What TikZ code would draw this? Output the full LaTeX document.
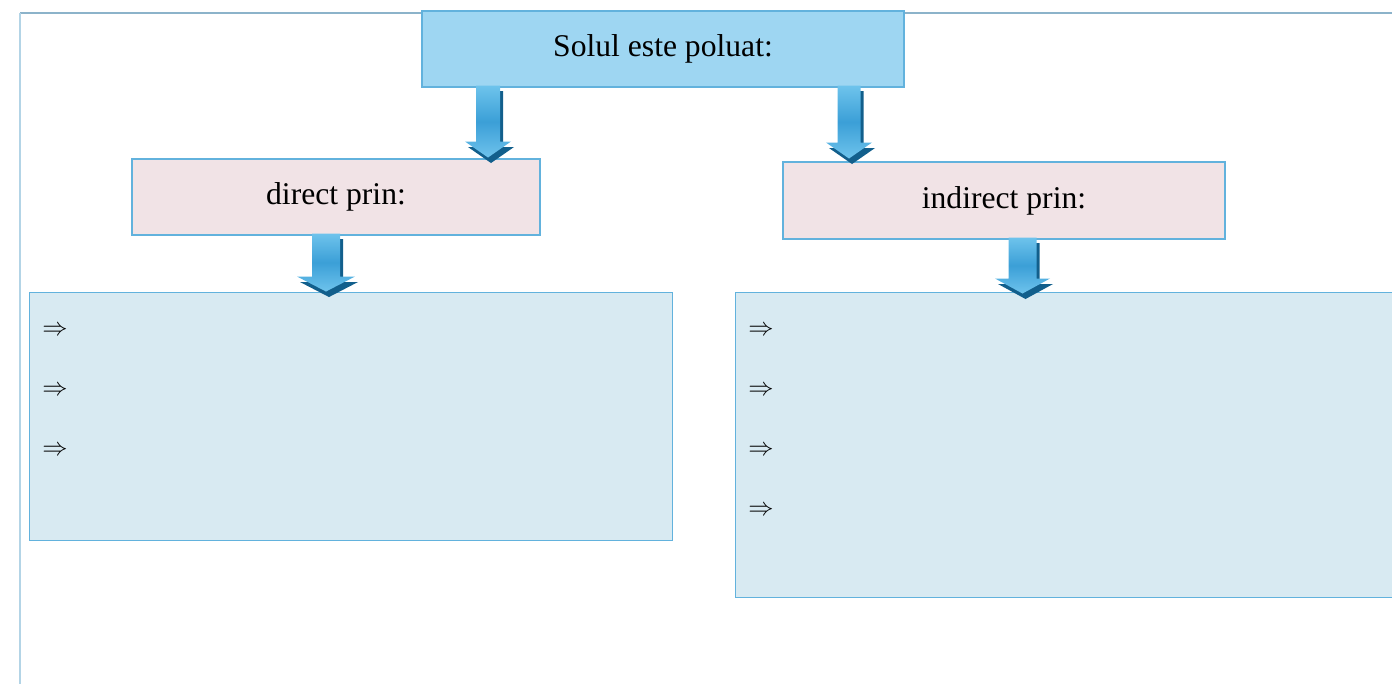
\documentclass[tikz,border=0pt]{standalone}
\usepackage{fontspec}
\setmainfont{Liberation Serif}
\usetikzlibrary{positioning, calc}
\definecolor{SkyBlue}{HTML}{9ED6F2}
\definecolor{BoxLine}{HTML}{62B2DD}
\definecolor{PinkFill}{HTML}{F1E3E6}
\definecolor{PaleBlue}{HTML}{D8EAF2}
\definecolor{FrameTop}{HTML}{8CB3CA}
\definecolor{FrameLeft}{HTML}{B3D4E6}
\definecolor{ArrLight}{HTML}{6EC3EC}
\definecolor{ArrMid}{HTML}{3B9FD7}
\definecolor{ArrDark}{HTML}{125F8C}
\tikzset{
    titlebox/.style={
        draw=BoxLine, line width=0.6pt, fill=SkyBlue, minimum width=9.64cm, minimum height=1.52cm,
        font=\fontsize{18}{22}\selectfont
    },
    waybox/.style={
        draw=BoxLine, line width=0.6pt, fill=PinkFill, minimum height=1.52cm,
        font=\fontsize{18}{22}\selectfont
    },
    listbox/.style={
        draw=BoxLine, line width=0.6pt, fill=PaleBlue, anchor=north west
    },
    bullet/.style={
        anchor=west, inner sep=0pt, font=\fontsize{15.5}{17}\selectfont
    },
    pics/downarr/.style n args={4}{code={
        % umbra (albastru inchis)
        \fill[ArrDark, shift={(0.06,-0.11)}] (-#2,0) -- (#2,0) -- (#2,-#1+#4) -- (#3,-#1+#4)
            -- (0,-#1) -- (-#3,-#1+#4) -- (-#2,-#1+#4) -- cycle;
        % sageata propriu-zisa
        \shade[shading=axis, top color=ArrLight, bottom color=ArrLight, middle color=ArrMid] (-#2,0) -- (#2,0)
            -- (#2,-#1+#4) -- (#3,-#1+#4) -- (0,-#1) -- (-#3,-#1+#4) -- (-#2,-#1+#4) -- cycle;
    }}
}

\begin{document}
\begin{tikzpicture}
    \useasboundingbox (0,0) rectangle (27.84,-13.66);

    % 1. CADRUL
    \draw[FrameTop, line width=0.6pt] (0.40,-0.26) -- (28,-0.26);
    \draw[FrameLeft, line width=0.6pt] (0.40,-0.26) -- (0.40,-13.8);

    % 2. CASETELE
    \node[titlebox] (title) at (13.26,-0.98) {Solul este poluat:};
    \node[waybox, minimum width=8.16cm] (direct) at (6.72,-3.94) {direct prin:};
    \node[waybox, minimum width=8.84cm, minimum height=1.54cm] (indirect) at (20.08,-4.01) {indirect prin:};

    \node[listbox, minimum width=12.86cm, minimum height=4.96cm] (leftlist) at (0.58,-5.84) {};
    \node[listbox, minimum width=13.30cm, minimum height=6.10cm] (rightlist) at (14.70,-5.84) {};

    % 3. SAGETILE DIN LISTE
    \foreach \i in {1,2,3}
        \node[bullet] (l\i) at ($(leftlist.north west)+(0.26,{-0.78-1.2*(\i-1)})$) {$\Rightarrow$};
    \foreach \i in {1,...,4}
        \node[bullet] (r\i) at ($(rightlist.north west)+(0.26,{-0.78-1.2*(\i-1)})$) {$\Rightarrow$};

    % 4. SAGETILE MARI
    \pic at ($(title.south)+(-3.50,0.04)$) {downarr={1.44}{0.24}{0.46}{0.32}};
    \pic at ($(title.south)+(3.72,0.04)$) {downarr={1.46}{0.23}{0.46}{0.32}};
    \pic at ($(direct.south)+(-0.20,0.04)$) {downarr={1.16}{0.28}{0.58}{0.30}};
    \pic at ($(indirect.south)+(0.37,0.04)$) {downarr={1.12}{0.28}{0.55}{0.30}};
\end{tikzpicture}
\end{document}
